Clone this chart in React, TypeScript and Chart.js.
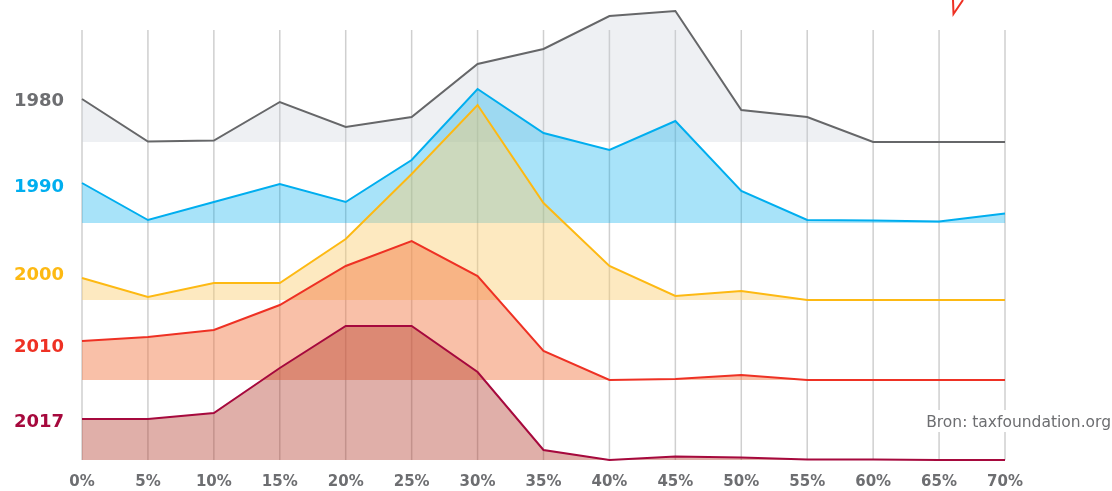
import React, { useEffect, useRef } from "react";
import { Chart, registerables } from "chart.js";

Chart.register(...registerables);

// ---- data ----
const CATEGORIES = ["0%", "5%", "10%", "15%", "20%", "25%", "30%", "35%", "40%", "45%", "50%", "55%", "60%", "65%", "70%"];
const YEARS = ["1980", "1990", "2000", "2010", "2017"];

// heights of each ridge above its own baseline (in axis units)
const VALUES_1980 = [43, 0.5, 1.5, 40, 15, 25, 78, 93, 126, 131, 32, 25, 0, 0, 0];
const VALUES_1990 = [40, 3, 21, 39, 21, 63, 134, 90, 73, 102, 32, 3, 2.5, 1.5, 9.5];
const VALUES_2000 = [22, 3, 17, 17, 61, 126, 195, 97, 34, 4, 9, 0, 0, 0, 0];
const VALUES_2010 = [39, 43, 50, 75, 114, 139, 104, 29, 0, 1, 5, 0, 0, 0, 0];
const VALUES_2017 = [41, 41, 47, 92, 134, 134, 88, 10, 0, 3.5, 2.5, 0.5, 0.5, 0, 0];

// ridge baselines and year label levels (axis units)
const BASELINES = [318, 237, 160, 80, 0];
const LABEL_LEVELS = [359, 273, 185, 113, 38];
const Y_MAX = 455;
const GRID_TOP_VALUE = 430;

const SOURCE_TEXT = "Bron: taxfoundation.org";

// ---- styles ----
const LINE_COLORS = ["#666769", "#00aeef", "#fdb913", "#ee3124", "#a6093d"];
const LABEL_COLORS = ["#6d6e71", "#00aeef", "#fdb913", "#ee3124", "#a6093d"];
const FILL_COLORS = [
  "rgba(200,205,215,0.3)",
  "rgba(0,173,238,0.34)",
  "rgba(250,204,108,0.43)",
  "rgba(242,115,62,0.45)",
  "rgba(177,55,40,0.4)",
];

const SERIES = [VALUES_1980, VALUES_1990, VALUES_2000, VALUES_2010, VALUES_2017];

const decorPlugin = {
  id: "decor",
  beforeDraw(chart: any) {
    const { ctx, scales, chartArea } = chart;
    const x = scales.x;
    const y = scales.y;
    const top = y.getPixelForValue(GRID_TOP_VALUE);
    ctx.save();
    ctx.strokeStyle = "#cfcfcf";
    ctx.lineWidth = 1.5;
    CATEGORIES.forEach((_, i) => {
      const px = x.getPixelForValue(i);
      ctx.beginPath();
      ctx.moveTo(px, top);
      ctx.lineTo(px, chartArea.bottom);
      ctx.stroke();
    });
    ctx.restore();
  },
  afterDraw(chart: any) {
    const { ctx, width } = chart;
    ctx.save();
    ctx.font = '15.5px "DejaVu Sans"';
    const w = ctx.measureText(SOURCE_TEXT).width;
    const right = width - 1;
    ctx.fillStyle = "#ffffff";
    ctx.fillRect(right - w - 4, 410, w + 6, 22);
    ctx.fillStyle = "#6d6e71";
    ctx.textAlign = "right";
    ctx.textBaseline = "middle";
    ctx.fillText(SOURCE_TEXT, right, 423);
    // partial red logo mark at the top edge
    ctx.strokeStyle = "#ee3124";
    ctx.lineWidth = 2;
    ctx.beginPath();
    ctx.moveTo(953, 0);
    ctx.lineTo(953.5, 14);
    ctx.lineTo(963, 0);
    ctx.stroke();
    ctx.restore();
  },
};

export default function App() {
  const ref = useRef<HTMLCanvasElement>(null);

  useEffect(() => {
    if (!ref.current) return;
    const chart = new Chart(ref.current, {
      type: "line",
      data: {
        labels: CATEGORIES,
        datasets: YEARS.map((year, i) => ({
          label: year,
          data: SERIES[i].map((v) => v + BASELINES[i]),
          borderColor: LINE_COLORS[i],
          backgroundColor: FILL_COLORS[i],
          borderWidth: 2,
          pointRadius: 0,
          tension: 0,
          order: YEARS.length - i,
          clip: false as any,
          fill: { value: BASELINES[i] } as any,
        })),
      },
      options: {
        animation: false,
        responsive: true,
        maintainAspectRatio: false,
        events: [],
        layout: { padding: { top: 5, right: 107, left: 0, bottom: 0 } },
        plugins: {
          legend: { display: false },
          tooltip: { enabled: false },
          filler: { drawTime: "beforeDatasetsDraw" } as any,
        },
        scales: {
          x: {
            type: "category",
            offset: false,
            grid: { display: false, drawTicks: false },
            border: { display: false },
            ticks: {
              color: "#6d6e71",
              font: { family: "DejaVu Sans", weight: "bold", size: 15 },
              padding: 13,
              maxRotation: 0,
              autoSkip: false,
            },
            afterFit: (s: any) => {
              s.height = 31;
            },
          },
          y: {
            min: 0,
            max: Y_MAX,
            grid: { display: false, drawTicks: false },
            border: { display: false },
            afterFit: (s: any) => {
              s.width = 82;
              s.paddingTop = 0;
              s.paddingBottom = 0;
            },
            afterBuildTicks: (s: any) => {
              s.ticks = LABEL_LEVELS.map((v) => ({ value: v }));
            },
            ticks: {
              autoSkip: false,
              padding: 18,
              callback: (_v: any, i: number) => YEARS[i],
              color: (c: any) => LABEL_COLORS[c.index],
              font: { family: "DejaVu Sans", weight: "bold", size: 18 },
            },
          },
        },
      },
      plugins: [decorPlugin],
    });
    return () => chart.destroy();
  }, []);

  return (
    <div style={{ position: "absolute", left: 0, top: 0, width: 1112, height: 491, background: "#ffffff" }}>
      <canvas ref={ref} />
    </div>
  );
}
